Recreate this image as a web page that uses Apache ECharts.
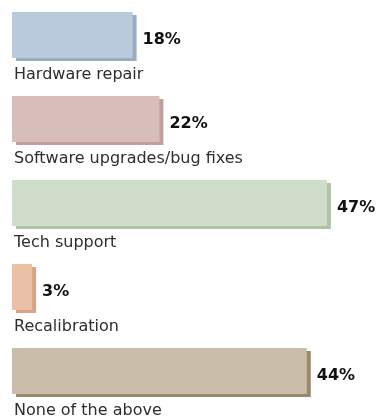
<!DOCTYPE html>
<html><head><meta charset="utf-8">
<script src="https://cdn.jsdelivr.net/npm/echarts@6/dist/echarts.min.js"></script>
<style>html,body{margin:0;padding:0;background:#fff}#c{width:378px;height:416px}</style>
</head><body><div id="c"></div>
<script>
var categories = ['Hardware repair','Software upgrades/bug fixes','Tech support','Recalibration','None of the above'];
var values = [18, 22, 47, 3, 44];
var faceColors = ['#b8cadb','#d8beba','#d0ddca','#eac0a6','#cabda9'];
var edgeColors = ['#98adc3','#c29f9b','#afc4a6','#d9a384','#9a8868'];

var chart = echarts.init(document.getElementById('c'));
chart.setOption({
  animation: false,
  grid: {left: 12, right: 31, top: 35, bottom: 45},
  xAxis: {type: 'value', min: 0, max: 50, show: false},
  yAxis: {type: 'category', data: categories, inverse: true, show: false, boundaryGap: false},
  series: [
    {
      type: 'bar', barWidth: 46, z: 1,
      data: values.map(function (v) { return {value: v}; }),
      itemStyle: {color: 'rgba(0,0,0,0)'},
      label: {
        show: true, position: [2, 63], align: 'left', verticalAlign: 'middle',
        formatter: function (p) { return categories[p.dataIndex]; },
        fontFamily: 'DejaVu Sans', fontSize: 16, color: '#2e2e2e'
      }
    },
    {
      type: 'bar', barWidth: 46, barGap: '-100%', z: 2,
      data: values.map(function (v, i) {
        return {value: v, itemStyle: {color: faceColors[i], shadowColor: edgeColors[i]}};
      }),
      itemStyle: {shadowBlur: 0, shadowOffsetX: 4, shadowOffsetY: 3},
      label: {
        show: true, position: 'right', distance: 10,
        formatter: '{c}%', fontFamily: 'DejaVu Sans', fontWeight: 'bold', fontSize: 16, color: '#111',
        offset: [0, 5]
      }
    }
  ]
});
</script></body></html>
